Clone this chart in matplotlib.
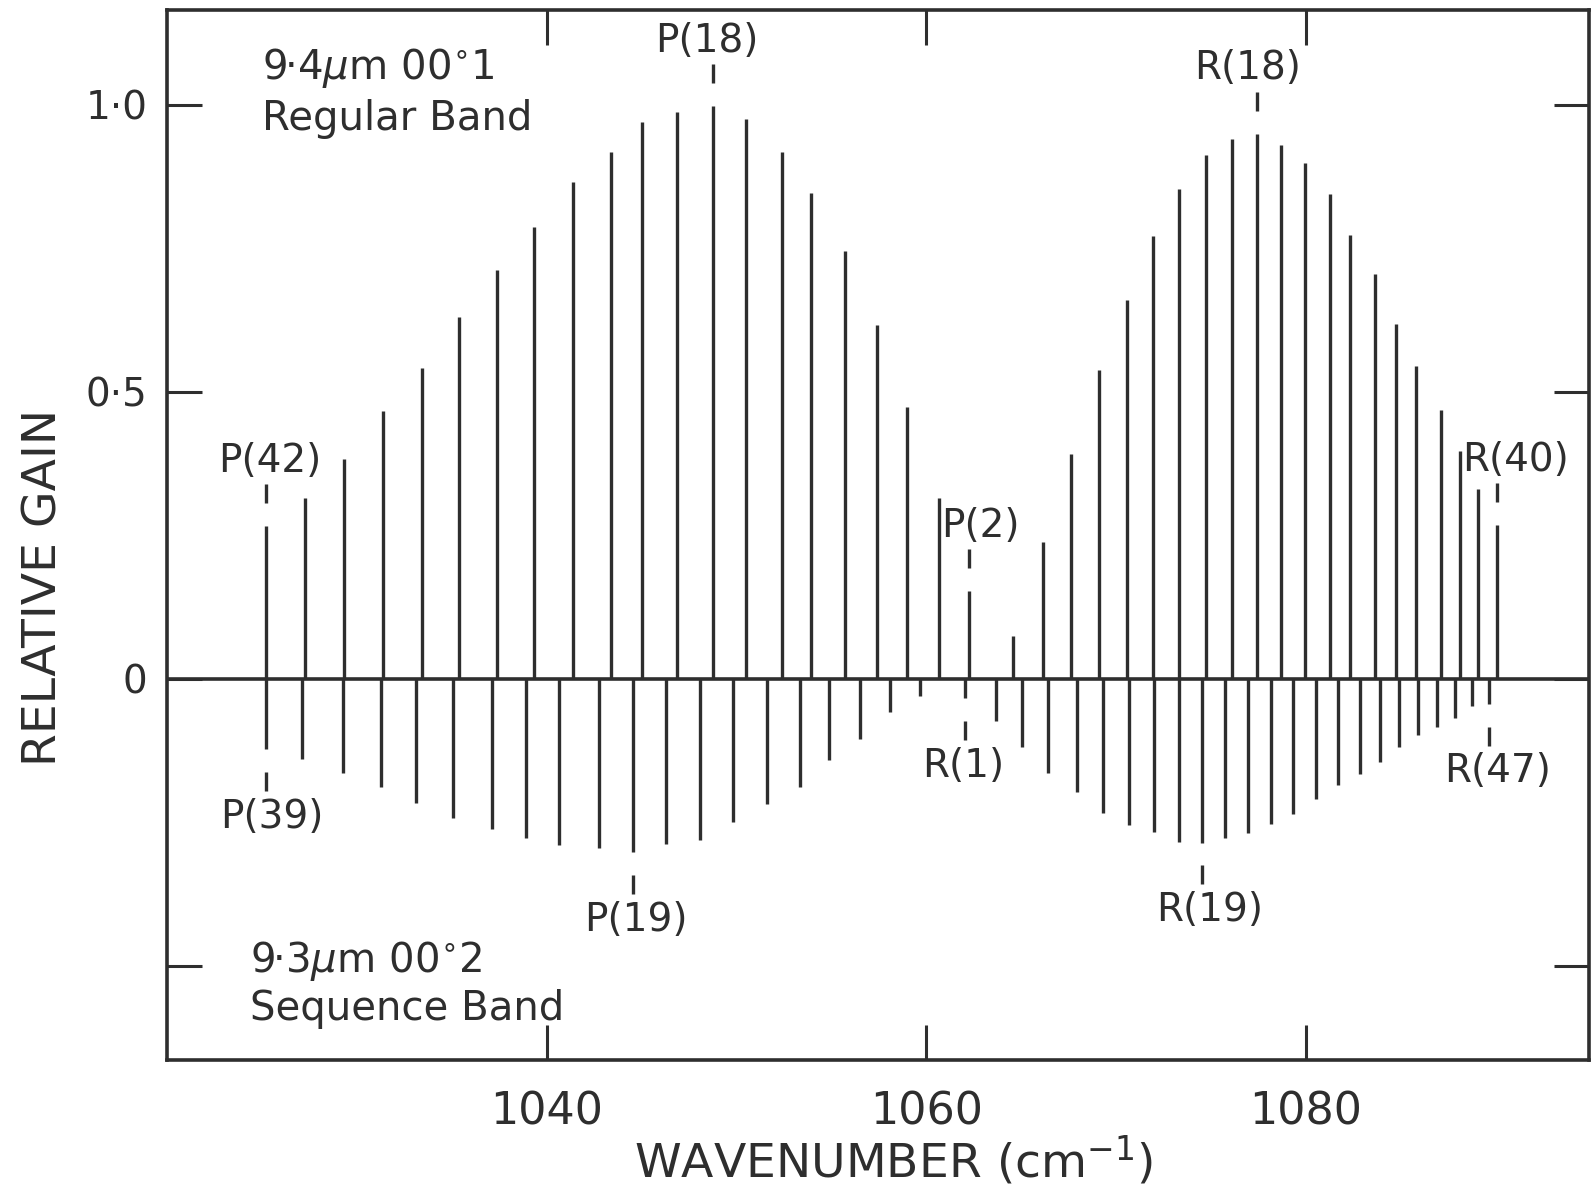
import numpy as np
import matplotlib.pyplot as plt

# 9.4 um 00^01 regular band: P(42)..P(2), R(0)..R(40)
reg_lines = [f'P({j})' for j in range(42, 0, -2)] + [f'R({j})' for j in range(0, 41, 2)]
reg_wn = [1025.25, 1027.26, 1029.33, 1031.38, 1033.44, 1035.38, 1037.41, 1039.33, 1041.38, 1043.37,
          1045.04, 1046.88, 1048.75, 1050.51, 1052.38, 1053.95, 1055.72, 1057.41, 1058.99, 1060.68,
          1062.23,
          1064.59, 1066.16, 1067.62, 1069.10, 1070.56, 1071.95, 1073.32, 1074.75, 1076.12, 1077.41,
          1078.67, 1079.95, 1081.26, 1082.32, 1083.62, 1084.72, 1085.81, 1087.12, 1088.09, 1089.07,
          1090.07]
reg_gain = [0.266, 0.316, 0.383, 0.466, 0.541, 0.630, 0.713, 0.788, 0.865, 0.918,
            0.970, 0.988, 0.998, 0.976, 0.918, 0.847, 0.746, 0.616, 0.474, 0.316,
            0.153,
            0.074, 0.238, 0.392, 0.538, 0.660, 0.772, 0.853, 0.913, 0.940, 0.950,
            0.930, 0.899, 0.845, 0.773, 0.706, 0.619, 0.545, 0.468, 0.397, 0.331,
            0.268]

# 9.3 um 00^02 sequence band: P(39)..P(1), R(1)..R(47)
seq_lines = [f'P({j})' for j in range(39, 0, -2)] + [f'R({j})' for j in range(1, 48, 2)]
seq_wn = [1025.21, 1027.14, 1029.28, 1031.26, 1033.14, 1035.07, 1037.14, 1038.93, 1040.65, 1042.76,
          1044.58, 1046.30, 1048.09, 1049.84, 1051.59, 1053.35, 1054.89, 1056.51, 1058.09, 1059.67,
          1062.03, 1063.67, 1065.04, 1066.42, 1067.96, 1069.28, 1070.68, 1072.00, 1073.32, 1074.54,
          1075.74, 1076.95, 1078.17, 1079.33, 1080.51, 1081.69, 1082.84, 1083.89, 1084.89, 1085.89,
          1086.91, 1087.84, 1088.75, 1089.63]
seq_gain = [-0.122, -0.139, -0.164, -0.188, -0.216, -0.242, -0.261, -0.278, -0.290, -0.294,
            -0.302, -0.288, -0.280, -0.249, -0.218, -0.188, -0.142, -0.104, -0.057, -0.030,
            -0.034, -0.073, -0.119, -0.164, -0.197, -0.233, -0.254, -0.266, -0.284, -0.285,
            -0.278, -0.268, -0.252, -0.235, -0.210, -0.184, -0.165, -0.144, -0.119, -0.098,
            -0.084, -0.068, -0.048, -0.043]

reg_marked = ['P(42)', 'P(18)', 'P(2)', 'R(18)', 'R(40)']
seq_marked = ['P(39)', 'P(19)', 'R(1)', 'R(19)', 'R(47)']

x_ticks = [1040, 1060, 1080]
y_ticks = [-0.5, 0, 0.5, 1.0]
y_ticklabels = ['', '0', '0·5', '1·0']

ink = '#2e2e2e'
plt.rcParams['font.family'] = ['DejaVu Sans']

fig = plt.figure(figsize=(15.94, 11.90), dpi=100)
ax = fig.add_axes([0.1046, 0.1092, 0.8923, 0.8822])

ax.vlines(reg_wn, 0, reg_gain, color=ink, lw=2.4)
ax.vlines(seq_wn, 0, seq_gain, color=ink, lw=2.4)
ax.axhline(0, color=ink, lw=2.6)

# little marker dashes and labels for the named lines
gap, dash = 0.04, 0.033
dx = {'P(42)': 0.15, 'P(18)': -0.3, 'P(2)': 0.6, 'R(18)': -0.5, 'R(40)': 0.95,
      'P(39)': 0.3, 'P(19)': 0.1, 'R(1)': -0.1, 'R(19)': 0.4, 'R(47)': 0.45}
for name in reg_marked:
    i = reg_lines.index(name)
    x, h = reg_wn[i], reg_gain[i]
    ax.vlines(x, h + gap, h + gap + dash, color=ink, lw=2.4)
    ax.text(x + dx[name], h + gap + dash + 0.008, name, ha='center', va='bottom',
            fontsize=28, color=ink)
for name in seq_marked:
    i = seq_lines.index(name)
    x, h = seq_wn[i], seq_gain[i]
    ax.vlines(x, h - gap, h - gap - dash, color=ink, lw=2.4)
    ax.text(x + dx[name], h - gap - dash - 0.012, name, ha='center', va='top',
            fontsize=28, color=ink)

ax.text(1025.0, 1.045, '9·4$\\mu$m 00$^{\\circ}$1', fontsize=29, color=ink, va='baseline')
ax.text(1025.0, 0.956, 'Regular Band', fontsize=29, color=ink, va='baseline')
ax.text(1024.4, -0.511, '9·3$\\mu$m 00$^{\\circ}$2', fontsize=29, color=ink, va='baseline')
ax.text(1024.4, -0.595, 'Sequence Band', fontsize=29, color=ink, va='baseline')

ax.set_xlim(1020, 1094.9)
ax.set_ylim(-0.664, 1.165)
ax.set_xticks(x_ticks)
ax.set_xticklabels([str(t) for t in x_ticks])
ax.set_yticks(y_ticks)
ax.set_yticklabels(y_ticklabels)
ax.tick_params(direction='in', length=25, width=2.2, color=ink, labelcolor=ink,
               top=True, right=True)
ax.tick_params(axis='x', labelsize=32, pad=22)
ax.tick_params(axis='y', labelsize=28, pad=14)
for s in ax.spines.values():
    s.set_linewidth(2.6)
    s.set_color(ink)

ax.set_xlabel('WAVENUMBER (cm$^{-1}$)', fontsize=34, color=ink, va='center')
ax.xaxis.set_label_coords(0.511, -0.096)
ax.set_ylabel('RELATIVE GAIN', fontsize=34, color=ink, va='center')
ax.yaxis.set_label_coords(-0.086, 0.4506)

fig.savefig('out.png', dpi=100)
